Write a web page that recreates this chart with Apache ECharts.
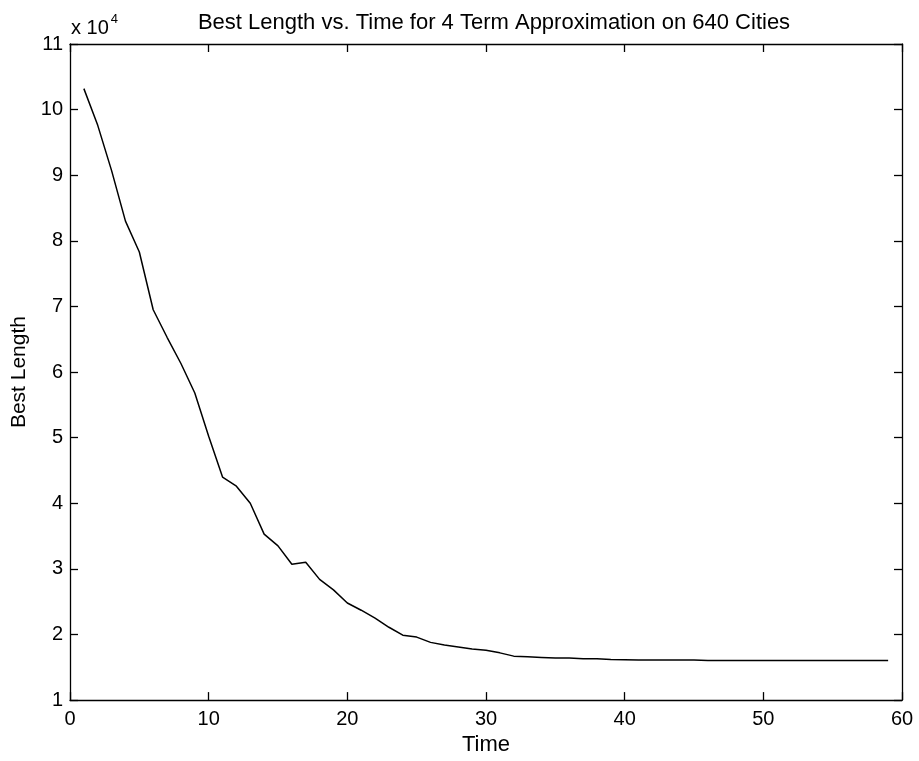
<!DOCTYPE html>
<html>
<head>
<meta charset="utf-8">
<script src="https://cdn.jsdelivr.net/npm/echarts@6/dist/echarts.min.js"></script>
<style>
html,body{margin:0;padding:0;background:#fff;}
#chart{width:919px;height:761px;}
</style>
</head>
<body>
<div id="chart"></div>
<script>
// Data (Best Length in absolute units; axis shows x 10^4)
var times = [1,2,3,4,5,6,7,8,9,10,11,12,13,14,15,16,17,18,19,20,21,22,23,24,25,26,27,28,29,30,31,32,33,34,35,36,37,38,39,40,41,42,43,44,45,46,47,48,49,50,51,52,53,54,55,56,57,58,59];
var bestLength = [103200,97600,90700,83000,78300,69500,65300,61300,56800,50200,44000,42600,40000,35300,33500,30700,31000,28400,26800,24800,23700,22500,21100,19900,19600,18800,18400,18100,17800,17600,17200,16700,16600,16500,16400,16400,16300,16300,16200,16150,16100,16100,16100,16100,16100,16050,16050,16050,16050,16050,16050,16050,16050,16050,16050,16050,16050,16050,16050];
var xTicks = [0,10,20,30,40,50,60];
var yTicks = [1,2,3,4,5,6,7,8,9,10,11];
var titleText = 'Best Length vs. Time for 4 Term Approximation on 640 Cities';

var seriesData = times.map(function(t,i){return [t,bestLength[i]];});
var font = 'Liberation Sans, Arial, Helvetica, sans-serif';
var axisLineStyle = {color:'#000', width:1.3};

var chart = echarts.init(document.getElementById('chart'), null, {renderer:'canvas'});
chart.setOption({
  animation:false,
  backgroundColor:'#fff',
  title:{
    text:titleText, left:489, top:7, textAlign:'center',
    textStyle:{fontFamily:font, fontSize:22, fontWeight:'normal', color:'#000'}
  },
  graphic:[{
    type:'text', left:71, top:13,
    style:{
      text:'{a|x 10}{b|4}',
      rich:{
        a:{fontFamily:font, fontSize:20, fill:'#000', padding:[8,0,0,0]},
        b:{fontFamily:font, fontSize:13, fill:'#000', padding:[0,0,10,2]}
      }
    }
  }],
  grid:{left:70, right:17, top:44, bottom:58, containLabel:false},
  xAxis:[{
    type:'value', min:xTicks[0], max:xTicks[xTicks.length-1], interval:10,
    name:'Time', nameLocation:'middle', nameGap:32,
    nameTextStyle:{fontFamily:font, fontSize:22, color:'#000'},
    axisLine:{show:true, onZero:false, lineStyle:axisLineStyle},
    axisTick:{show:true, inside:true, length:8, lineStyle:axisLineStyle},
    axisLabel:{fontFamily:font, fontSize:20, color:'#000', margin:9},
    splitLine:{show:false}
  },{
    type:'value', position:'top', min:xTicks[0], max:xTicks[xTicks.length-1], interval:10,
    axisLine:{show:true, onZero:false, lineStyle:axisLineStyle},
    axisTick:{show:true, inside:true, length:8, lineStyle:axisLineStyle},
    axisLabel:{show:false}, splitLine:{show:false}
  }],
  yAxis:[{
    type:'value', min:yTicks[0]*1e4, max:yTicks[yTicks.length-1]*1e4, interval:1e4,
    name:'Best Length', nameLocation:'middle', nameGap:29,
    nameTextStyle:{fontFamily:font, fontSize:21, color:'#000'},
    axisLine:{show:true, onZero:false, lineStyle:axisLineStyle},
    axisTick:{show:true, inside:true, length:8, lineStyle:axisLineStyle},
    axisLabel:{fontFamily:font, fontSize:20, color:'#000', margin:7,
      formatter:function(v){return String(Math.round(v/1e4));}},
    splitLine:{show:false}
  },{
    type:'value', position:'right', min:yTicks[0]*1e4, max:yTicks[yTicks.length-1]*1e4, interval:1e4,
    axisLine:{show:true, onZero:false, lineStyle:axisLineStyle},
    axisTick:{show:true, inside:true, length:8, lineStyle:axisLineStyle},
    axisLabel:{show:false}, splitLine:{show:false}
  }],
  series:[{
    type:'line', data:seriesData, xAxisIndex:0, yAxisIndex:0,
    showSymbol:false, smooth:false,
    lineStyle:{color:'#000', width:1.5}
  }]
});
</script>
</body>
</html>
